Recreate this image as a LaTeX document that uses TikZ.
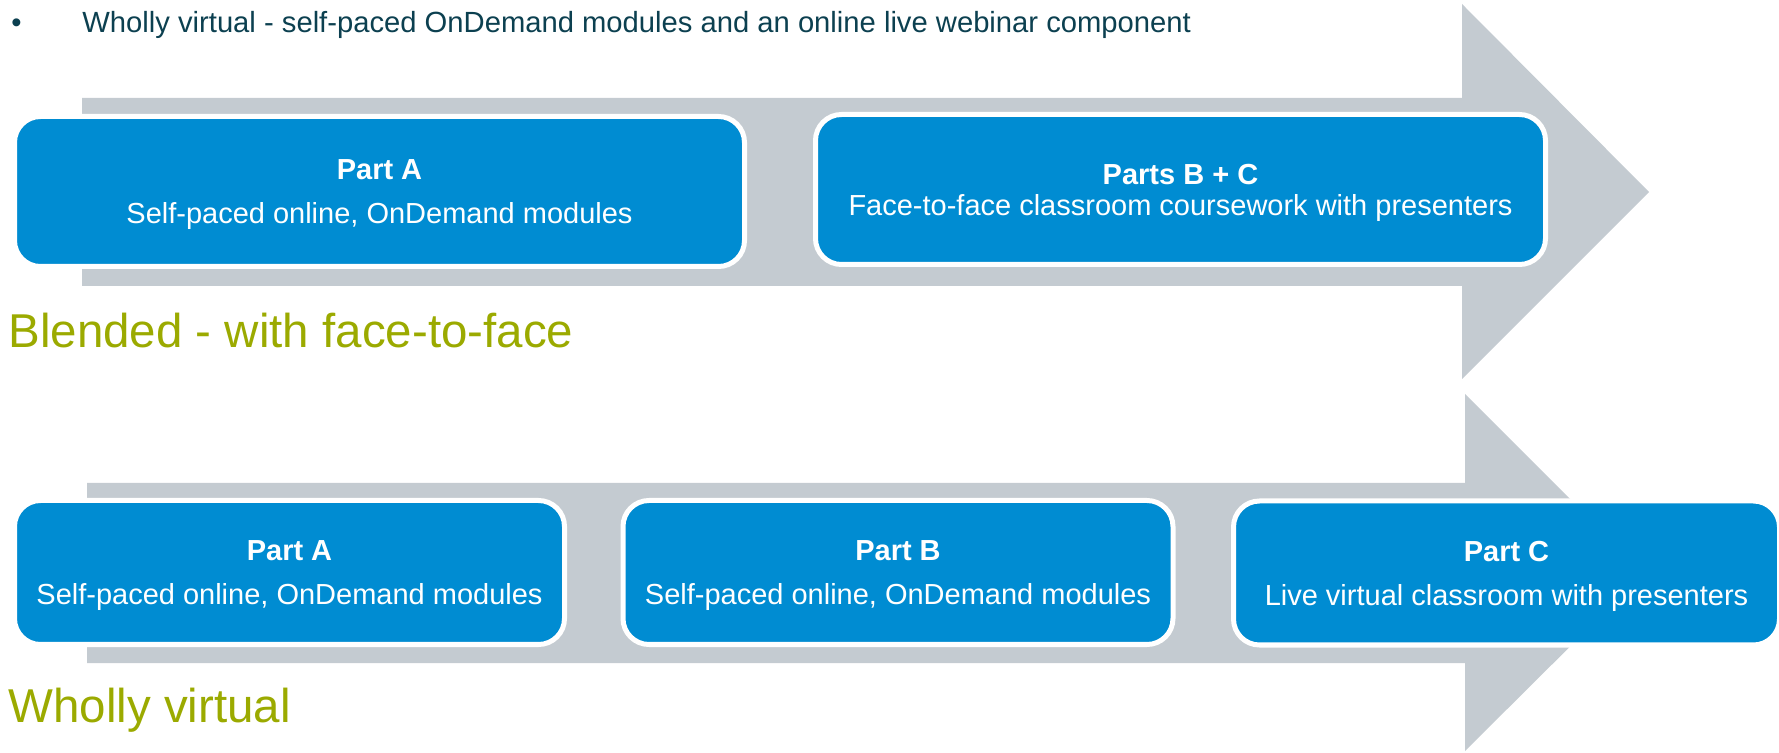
\documentclass[tikz,border=0pt]{standalone}
\usepackage{fontspec}
\setmainfont{Liberation Sans}
\usepackage{tikz}
\usepackage{xcolor}
\definecolor{arrowgrey}{RGB}{196,203,209}
\definecolor{partblue}{RGB}{0,140,210}
\definecolor{modegreen}{RGB}{155,170,0}
\definecolor{bulletteal}{RGB}{12,64,80}

\begin{document}
\begin{tikzpicture}[x=0.5pt, y=-0.5pt,
	partbox/.style={fill=partblue, draw=white, line width=2.5pt, rounded corners=13pt, text=white, align=center, inner sep=0pt, text depth=0pt, minimum height=75pt, font=\fontsize{14.5}{22}\selectfont},
	modetitle/.style={anchor=base west, inner sep=0pt, text=modegreen, font=\fontsize{23.75}{28}\selectfont}]
				\useasboundingbox (0, 0) rectangle (1779, 753);
				\fill[arrowgrey] (82, 98) -- (1462, 98) -- (1462, 4) -- (1649, 192) -- (1462, 379) -- (1462, 286) -- (82, 286) -- cycle;
				\fill[arrowgrey] (87, 483) -- (1465, 483) -- (1465, 394) -- (1644, 573) -- (1465, 751) -- (1465, 663) -- (87, 663) -- cycle;
				\node[anchor=base west, inner sep=0pt, text=bulletteal, font=\fontsize{14.6}{16}\selectfont] (bullet) at (11, 33) {•};
				\node[anchor=base west, inner sep=0pt, text=bulletteal, font=\fontsize{14.6}{16}\selectfont] (intro) at (82, 33) {Wholly virtual - self-paced OnDemand modules and an online live webinar component};
				\node[partbox, minimum width=365pt] (blendA) at (379.5, 191.5) {\textbf{Part A}\\Self-paced online, OnDemand modules};
				\node[partbox, minimum width=365pt, font=\fontsize{14.5}{15.5}\selectfont] (blendBC) at (1180.5, 189.5) {\textbf{Parts B + C}\\Face-to-face classroom coursework with presenters};
				\node[modetitle] (blended) at (8, 348) {Blended - with face-to-face};
				\node[partbox, minimum width=275pt, minimum height=72pt] (virtA) at (289.5, 572.5) {\textbf{Part A}\\Self-paced online, OnDemand modules};
				\node[partbox, minimum width=275pt, minimum height=72pt] (virtB) at (898, 572.5) {\textbf{Part B}\\Self-paced online, OnDemand modules};
				\node[partbox, minimum width=273pt, minimum height=72pt] (virtC) at (1506.5, 573) {\textbf{Part C}\\Live virtual classroom with presenters};
				\node[modetitle] (virtual) at (8, 722) {Wholly virtual};
			\end{tikzpicture}
\end{document}
